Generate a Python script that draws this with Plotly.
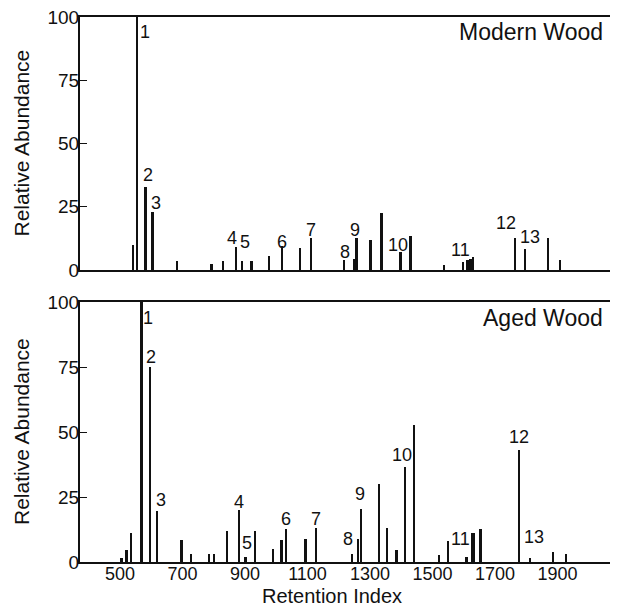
import plotly.graph_objects as go

# ---- data ----
modern_ri = [543, 556, 582, 605, 683, 793, 830, 871, 892, 921, 978, 1019, 1076, 1111,
             1218, 1249, 1257, 1302, 1337, 1398, 1430, 1537, 1599, 1613, 1622, 1631,
             1764, 1796, 1871, 1908]
modern_ab = [10, 100, 33, 23, 3.5, 2.5, 3.5, 9, 3.5, 3.5, 5.5, 9.5, 8.5, 12.5,
             3.8, 4.4, 12.5, 12, 22.5, 7, 13.5, 2, 3, 3.9, 4.2, 5.3,
             12.5, 8.3, 12.5, 3.9]

aged_ri = [505, 521, 535, 570, 596, 620, 697, 727, 786, 801, 843, 882, 902, 932, 991,
           1017, 1031, 1094, 1127, 1243, 1262, 1271, 1329, 1355, 1385, 1412, 1441,
           1521, 1551, 1609, 1627, 1634, 1654, 1777, 1812, 1886, 1927]
aged_ab = [1.5, 4.5, 11, 100, 75, 19.5, 8.5, 3, 3, 3, 12, 20, 2, 12, 5,
           8.4, 12.5, 9, 13, 3, 9, 20.5, 30, 13, 4.5, 36.5, 52.5,
           2.5, 8, 2, 11, 11, 12.5, 43, 1.5, 4, 3]

label_text = ["1", "2", "3", "4", "5", "6", "7", "8", "9", "10", "11", "12", "13"]
modern_label_x = [580, 589, 614, 859, 900, 1019, 1111, 1220, 1252, 1391, 1590, 1734, 1812]
modern_label_y = [94, 37.5, 26.5, 12.5, 11, 11, 16, 7, 16, 10, 8, 18.5, 13]
aged_label_x = [591, 598, 630, 882, 905, 1031, 1127, 1230, 1268, 1403, 1590, 1777, 1825]
aged_label_y = [94, 79, 24, 23, 7.5, 16.5, 16.5, 9, 26, 41, 9, 48, 9.5]

x_ticks = [500, 700, 900, 1100, 1300, 1500, 1700, 1900]
y_ticks = [0, 25, 50, 75, 100]

FONT = "Liberation Sans, Arial, Helvetica, sans-serif"
INK = "#111111"

fig = go.Figure()
fig.add_trace(go.Bar(x=modern_ri, y=modern_ab, width=6, marker=dict(color=INK, line=dict(width=0)),
                     xaxis="x2", yaxis="y2", showlegend=False))
fig.add_trace(go.Bar(x=aged_ri, y=aged_ab, width=6, marker=dict(color=INK, line=dict(width=0)),
                     xaxis="x", yaxis="y", showlegend=False))

xr = [372, 2068]
common_x = dict(range=xr, showline=True, linecolor=INK, linewidth=2, mirror=True,
                showgrid=False, zeroline=False, automargin=False)
common_y = dict(range=[0, 100], tickvals=y_ticks, ticks="inside", ticklen=7, tickwidth=1,
                tickcolor=INK, showline=True, linecolor=INK, linewidth=2, showgrid=False,
                zeroline=False, ticklabelstandoff=-5, automargin=False,
                ticklabeloverflow="allow",
                tickfont=dict(family=FONT, size=19, color=INK))

annotations = []
for t, x, y in zip(label_text, modern_label_x, modern_label_y):
    annotations.append(dict(x=x, y=y, xref="x2", yref="y2", text=t, showarrow=False,
                            font=dict(family=FONT, size=18, color=INK)))
for t, x, y in zip(label_text, aged_label_x, aged_label_y):
    annotations.append(dict(x=x, y=y, xref="x", yref="y", text=t, showarrow=False,
                            font=dict(family=FONT, size=18, color=INK)))

annotations += [
    dict(x=1, y=0.9725, xref="paper", yref="paper", xanchor="right", yanchor="middle", xshift=-5,
         text="Modern Wood", showarrow=False, font=dict(family=FONT, size=23, color=INK)),
    dict(x=1, y=0.4477, xref="paper", yref="paper", xanchor="right", yanchor="middle", xshift=-5,
         text="Aged Wood", showarrow=False, font=dict(family=FONT, size=23, color=INK)),
    dict(x=0.475, y=-0.0624, xref="paper", yref="paper", xanchor="center", yanchor="middle",
         yshift=0,
         text="Retention Index", showarrow=False, font=dict(family=FONT, size=20, color=INK)),
    dict(x=-0.1113, y=0.7679, xref="paper", yref="paper", xanchor="center", yanchor="middle",
         textangle=-90, text="Relative Abundance", showarrow=False,
         font=dict(family=FONT, size=21, color=INK)),
    dict(x=-0.1113, y=0.2385, xref="paper", yref="paper", xanchor="center", yanchor="middle",
         textangle=-90, text="Relative Abundance", showarrow=False,
         font=dict(family=FONT, size=21, color=INK)),
]

# page body has an 8px default margin: compensate so the plot area lands where the reference has it
fig.update_layout(
    width=611, height=600,
    margin=dict(l=72, r=9, t=9, b=46, autoexpand=False),
    paper_bgcolor="white", plot_bgcolor="white",
    bargap=0,
    xaxis=dict(**common_x, domain=[0, 1], anchor="y", tickvals=x_ticks, ticks="",
               ticklabelstandoff=-6, ticklabeloverflow="allow",
               tickfont=dict(family=FONT, size=18, color=INK)),
    yaxis=dict(**common_y, domain=[0, 0.477], anchor="x"),
    xaxis2=dict(**common_x, domain=[0, 1], anchor="y2", showticklabels=False, ticks=""),
    yaxis2=dict(**common_y, domain=[0.5358, 1], anchor="x2"),
    annotations=annotations,
    showlegend=False,
)

fig.write_html("out.html")
